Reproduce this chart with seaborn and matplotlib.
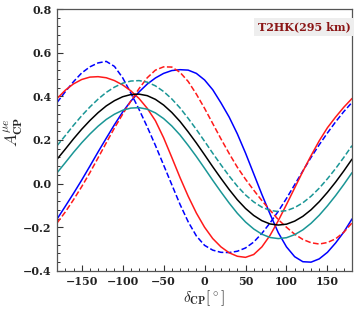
import numpy as np
import pandas as pd
import matplotlib
matplotlib.use('Agg')
import matplotlib.pyplot as plt
import seaborn as sns
from matplotlib.ticker import MultipleLocator, FuncFormatter

delta_cp = list(range(-180, 181, 10))

black_solid = [0.112, 0.158, 0.205, 0.249, 0.289, 0.325, 0.356, 0.380, 0.398, 0.408, 0.410, 0.403, 0.386,
               0.360, 0.326, 0.285, 0.237, 0.186, 0.132, 0.077, 0.024, -0.027, -0.074, -0.114, -0.146,
               -0.170, -0.185, -0.190, -0.186, -0.172, -0.150, -0.120, -0.083, -0.040, 0.007, 0.058, 0.112]
teal_dashed = [0.174, 0.220, 0.267, 0.311, 0.351, 0.387, 0.418, 0.442, 0.460, 0.470, 0.472, 0.465, 0.448,
               0.422, 0.388, 0.347, 0.299, 0.248, 0.194, 0.139, 0.086, 0.035, -0.012, -0.052, -0.084,
               -0.108, -0.123, -0.128, -0.124, -0.110, -0.088, -0.058, -0.021, 0.022, 0.069, 0.120, 0.174]
teal_solid = [0.050, 0.096, 0.143, 0.187, 0.227, 0.263, 0.294, 0.318, 0.336, 0.346, 0.348, 0.341, 0.324,
              0.298, 0.264, 0.223, 0.175, 0.124, 0.070, 0.015, -0.038, -0.089, -0.136, -0.176, -0.208,
              -0.232, -0.247, -0.252, -0.248, -0.234, -0.212, -0.182, -0.145, -0.102, -0.055, -0.004, 0.050]
red_solid = [0.390, 0.428, 0.457, 0.477, 0.488, 0.490, 0.485, 0.472, 0.452, 0.425, 0.390, 0.345, 0.288,
             0.210, 0.120, 0.028, -0.058, -0.135, -0.200, -0.252, -0.290, -0.317, -0.333, -0.338, -0.325,
             -0.290, -0.237, -0.170, -0.096, -0.020, 0.056, 0.128, 0.196, 0.256, 0.305, 0.350, 0.390]
red_dashed = [-0.180, -0.130, -0.074, -0.014, 0.050, 0.118, 0.187, 0.255, 0.318, 0.378, 0.435, 0.485, 0.520,
              0.535, 0.534, 0.510, 0.468, 0.410, 0.345, 0.275, 0.205, 0.138, 0.075, 0.020, -0.030,
              -0.078, -0.122, -0.165, -0.200, -0.232, -0.256, -0.271, -0.277, -0.270, -0.253, -0.223, -0.180]
blue_solid = [-0.162, -0.104, -0.045, 0.016, 0.080, 0.145, 0.208, 0.270, 0.328, 0.378, 0.420, 0.456, 0.484,
              0.505, 0.518, 0.522, 0.520, 0.505, 0.475, 0.430, 0.370, 0.305, 0.228, 0.140, 0.045,
              -0.050, -0.140, -0.225, -0.290, -0.335, -0.358, -0.360, -0.345, -0.315, -0.272, -0.222, -0.162]
blue_dashed = [0.372, 0.421, 0.467, 0.507, 0.535, 0.553, 0.560, 0.537, 0.485, 0.415, 0.340, 0.260, 0.175,
               0.085, -0.005, -0.095, -0.175, -0.240, -0.283, -0.305, -0.315, -0.316, -0.310, -0.295, -0.268,
               -0.228, -0.180, -0.127, -0.068, -0.005, 0.058, 0.120, 0.178, 0.232, 0.283, 0.330, 0.372]

curves = [
    (blue_solid, 'blue', '-'),
    (blue_dashed, 'blue', '--'),
    (red_solid, '#ff1a1a', '-'),
    (red_dashed, '#ff1a1a', '--'),
    (teal_solid, '#1a9696', '-'),
    (teal_dashed, '#1a9696', '--'),
    (black_solid, 'black', '-'),
]

sns.set_style('ticks')
plt.rcParams['font.family'] = ['DejaVu Serif']
plt.rcParams['mathtext.fontset'] = 'cm'

fig = plt.figure(figsize=(3.57, 3.11), dpi=100)
ax = fig.add_axes([0.16, 0.129, 0.826, 0.842])

for vals, col, ls in curves:
    sns.lineplot(x=delta_cp, y=vals, color=col, linestyle=ls, linewidth=1.1, ax=ax)

ax.set_xlim(-180, 180)
ax.set_ylim(-0.4, 0.8)
ax.xaxis.set_major_locator(MultipleLocator(50))
ax.xaxis.set_minor_locator(MultipleLocator(10))
ax.yaxis.set_major_locator(MultipleLocator(0.2))
ax.yaxis.set_minor_locator(MultipleLocator(0.04))

ax.xaxis.set_major_formatter(FuncFormatter(lambda v, p: ('%d' % v).replace('-', '\u2212')))
ax.yaxis.set_major_formatter(FuncFormatter(
    lambda v, p: ('%.1f' % (0.0 if abs(v) < 1e-9 else v)).replace('-', '\u2212')))

ax.tick_params(which='both', direction='in', colors='#333333', labelsize=8,
               top=False, right=False)
ax.tick_params(which='major', length=4, width=0.8, pad=4)
ax.tick_params(which='minor', length=2, width=0.7)
for lab in ax.get_xticklabels() + ax.get_yticklabels():
    lab.set_fontweight('bold')
    lab.set_color('#222222')
for s in ax.spines.values():
    s.set_color('#555555')
    s.set_linewidth(0.9)

ax.set_xlabel(r'$\delta_{\mathbf{CP}}[^\circ]$', fontsize=11, labelpad=1)
ax.set_ylabel(r'$A^{\mu e}_{\mathbf{CP}}$', fontsize=12)
ax.yaxis.set_label_coords(-0.11, 0.53)

ax.text(0.837, 0.931, 'T2HK(295 km)', transform=ax.transAxes,
        ha='center', va='center', fontsize=8, fontweight='bold', color='#8b1515',
        bbox=dict(facecolor='#eeeeee', edgecolor='none', pad=2.5))

fig.savefig('out.png', dpi=100)
